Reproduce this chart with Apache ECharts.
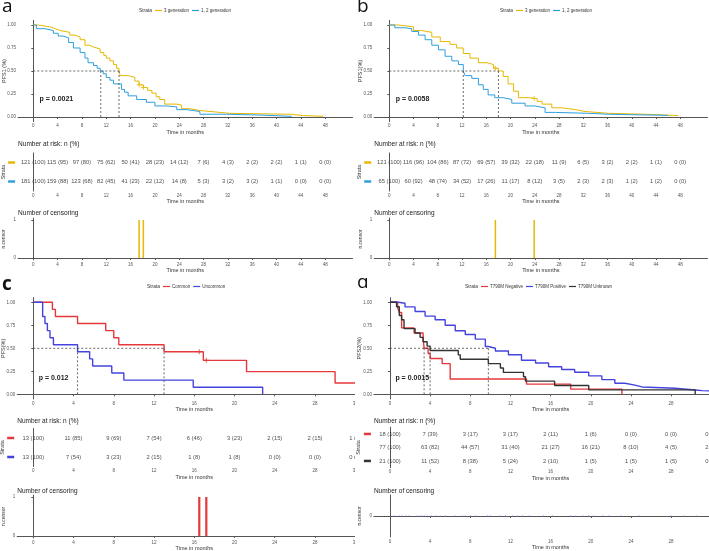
<!DOCTYPE html>
<html>
<head>
<meta charset="utf-8">
<script src="https://cdn.jsdelivr.net/npm/echarts@6/dist/echarts.min.js"></script>
<style>
  body { margin: 0; background: #fff; width: 709px; height: 551px; position: relative; overflow: hidden; }
  .panel { position: absolute; overflow: hidden; }
</style>
</head>
<body>
<div id="pa" class="panel" style="left:0;top:0;width:355px;height:278px"></div>
<div id="pb" class="panel" style="left:355px;top:0;width:354px;height:278px"></div>
<div id="pc" class="panel" style="left:0;top:278px;width:355px;height:273px"></div>
<div id="pd" class="panel" style="left:355px;top:278px;width:354px;height:273px"></div>
<script>
// ---- data ----
const ticksAB = [0, 4, 8, 12, 16, 20, 24, 28, 32, 36, 40, 44, 48]
const ticksCD = [0, 4, 8, 12, 16, 20, 24, 28, 32]
const survTicks = [0, 0.25, 0.5, 0.75, 1]

// panel a: PFS1, 3 generation vs 1,2 generation
const aGen3T = [0, 0.8, 2.7, 3.6, 4.4, 6.0, 6.9, 7.7, 8.5, 9.3, 9.9, 11.0, 11.6, 12.0, 12.6, 13.2, 13.7, 14.1, 14.3, 15.6, 16.7, 17.4, 18.1, 18.8, 19.5, 20.2, 20.8, 21.6, 23.6, 24.4, 25.8, 27.4, 30.7, 32.3, 42.2, 44.5, 47.7]
const aGen3S = [1, 0.98, 0.96, 0.94, 0.92, 0.89, 0.87, 0.84, 0.78, 0.76, 0.74, 0.70, 0.67, 0.64, 0.61, 0.57, 0.53, 0.50, 0.45, 0.43, 0.39, 0.35, 0.32, 0.29, 0.26, 0.22, 0.19, 0.14, 0.13, 0.09, 0.07, 0.05, 0.04, 0.03, 0.015, 0.008, 0.008]
const aGen12T = [0, 0.5, 1.9, 3.3, 4.1, 4.9, 5.8, 6.6, 7.7, 8.5, 9.0, 9.9, 10.5, 11.0, 11.5, 12.0, 12.6, 13.2, 14.5, 15.0, 15.6, 17.0, 18.6, 20.0, 21.9, 23.6, 25.2, 27.4, 31.8, 37.8, 42.5]
const aGen12S = [1, 0.96, 0.94, 0.91, 0.88, 0.86, 0.81, 0.75, 0.70, 0.64, 0.59, 0.56, 0.53, 0.50, 0.47, 0.43, 0.40, 0.36, 0.30, 0.27, 0.23, 0.19, 0.16, 0.12, 0.11, 0.08, 0.06, 0.03, 0.02, 0.007, 0]
const aMedians = [14.1, 11.1]
const aCensorT = [17.4, 18.1]
const aCensorS = [0.35, 0.32]
const aRiskGen3 = [121, 115, 97, 75, 50, 28, 14, 7, 4, 2, 2, 1, 0]
const aRiskGen3Pct = [100, 95, 80, 62, 41, 23, 12, 6, 3, 2, 2, 1, 0]
const aRiskGen12 = [181, 159, 123, 82, 41, 22, 14, 5, 3, 3, 1, 0, 0]
const aRiskGen12Pct = [100, 88, 68, 45, 23, 12, 8, 3, 2, 2, 1, 0, 0]

// panel b
const bGen3T = [0, 1.5, 4.0, 5.3, 7.0, 8.4, 10.0, 11.1, 12.2, 13.3, 14.7, 16.1, 17.2, 18.0, 18.8, 19.6, 20.5, 21.3, 23.0, 24.4, 25.2, 26.8, 28.5, 30.7, 32.3, 36.2, 42.2, 47.7]
const bGen3S = [1, 0.98, 0.94, 0.92, 0.87, 0.82, 0.79, 0.75, 0.69, 0.64, 0.59, 0.57, 0.53, 0.50, 0.44, 0.36, 0.28, 0.21, 0.20, 0.17, 0.14, 0.10, 0.08, 0.06, 0.04, 0.03, 0.015, 0.008]
const bGen12T = [0, 0.9, 2.6, 3.7, 4.8, 5.9, 7.0, 8.1, 9.2, 10.3, 11.4, 12.2, 12.5, 13.6, 14.7, 15.5, 16.3, 17.4, 18.8, 20.2, 22.4, 24.0, 25.7, 27.4, 32.9, 36.2, 40.0, 46.0]
const bGen12S = [1, 0.97, 0.96, 0.93, 0.89, 0.84, 0.78, 0.73, 0.66, 0.61, 0.57, 0.50, 0.45, 0.42, 0.35, 0.30, 0.24, 0.21, 0.19, 0.15, 0.12, 0.10, 0.05, 0.04, 0.03, 0.025, 0.018, 0.018]
const bMedians = [18.0, 12.2]
const bCensorT = [17.5, 23.9]
const bCensorS = [0.53, 0.20]
const bRiskGen3 = [121, 116, 104, 87, 69, 39, 22, 11, 6, 3, 2, 1, 0]
const bRiskGen3Pct = [100, 96, 86, 72, 57, 32, 18, 9, 5, 2, 2, 1, 0]
const bRiskGen12 = [65, 60, 48, 34, 17, 11, 8, 3, 2, 2, 1, 1, 0]
const bRiskGen12Pct = [100, 92, 74, 52, 26, 17, 12, 5, 3, 3, 2, 2, 0]

// panel c: PFS
const cCommonT = [0, 1.9, 2.2, 4.4, 7.2, 8.0, 8.5, 13.0, 16.9, 21.2, 30.0, 34]
const cCommonS = [1, 0.923, 0.846, 0.769, 0.692, 0.615, 0.538, 0.462, 0.369, 0.246, 0.123, 0.123]
const cUncommonT = [0, 0.93, 1.16, 1.4, 1.66, 2.0, 4.4, 5.6, 5.9, 7.8, 9.0, 15.9, 22.8]
const cUncommonS = [1, 0.846, 0.769, 0.692, 0.615, 0.538, 0.462, 0.385, 0.308, 0.231, 0.154, 0.077, 0]
const cMedians = [13.0, 4.4]
const cCensorT = [16.5, 17.2]
const cCensorS = [0.462, 0.369]
const cRiskCommon = [13, 11, 9, 7, 6, 3, 2, 2, 1]
const cRiskCommonPct = [100, 85, 69, 54, 46, 23, 15, 15, 8]
const cRiskUncommon = [13, 7, 3, 2, 1, 1, 0, 0, 0]
const cRiskUncommonPct = [100, 54, 23, 15, 8, 8, 0, 0, 0]

// panel d: PFS2 by T790M
const dNegT = [0, 0.76, 0.93, 1.16, 2.4, 3.3, 3.4, 3.8, 4.0, 5.2, 6.0, 13.6, 18.0, 23.1]
const dNegS = [1, 0.944, 0.889, 0.722, 0.667, 0.611, 0.5, 0.444, 0.389, 0.333, 0.167, 0.111, 0.056, 0]
const dPosT = [0, 0.83, 1.5, 2.5, 3.5, 4.5, 5.5, 6.5, 7.5, 8.5, 9.5, 9.8, 10.5, 11.8, 13.1, 14.5, 15.8, 17.1, 18.4, 19.8, 21.1, 22.4, 23.4, 24.4, 25.1, 28.4, 30.4, 31.1, 34]
const dPosS = [1, 0.99, 0.95, 0.90, 0.85, 0.81, 0.75, 0.69, 0.65, 0.60, 0.52, 0.50, 0.47, 0.43, 0.37, 0.34, 0.30, 0.27, 0.24, 0.20, 0.16, 0.12, 0.10, 0.08, 0.065, 0.047, 0.04, 0.03, 0.03]
const dUnkT = [0, 0.66, 0.93, 1.16, 1.4, 2.5, 3.0, 3.3, 3.7, 4.0, 6.8, 7.0, 9.8, 11.0, 11.3, 13.3, 13.5, 16.4, 19.8, 30.4]
const dUnkS = [1, 0.952, 0.857, 0.81, 0.714, 0.667, 0.619, 0.571, 0.524, 0.476, 0.429, 0.381, 0.333, 0.286, 0.238, 0.190, 0.143, 0.095, 0.048, 0]
const dMedians = [3.4, 9.8, 4.0]
const dCensorMarks = [0.4, 0.9, 1.2, 1.6, 1.9, 2.7, 3.1, 3.4, 3.7, 4.1, 4.6, 5.0, 5.5, 6.5, 7.2, 7.5, 8.0, 8.5, 9.7, 10.0, 11.0, 11.5, 12.2, 12.7, 13.2, 13.9, 15.3, 16.2, 18.0, 18.5, 19.2, 19.8, 20.3, 21.2, 21.8, 23.0, 24.8, 28.0, 29.3, 30.5]
const dRiskNeg = [18, 7, 3, 3, 2, 1, 0, 0, 0]
const dRiskNegPct = [100, 39, 17, 17, 11, 6, 0, 0, 0]
const dRiskPos = [77, 63, 44, 31, 21, 16, 8, 4, 2]
const dRiskPosPct = [100, 82, 57, 40, 27, 21, 10, 5, 3]
const dRiskUnk = [21, 11, 8, 5, 2, 1, 1, 1, 0]
const dRiskUnkPct = [100, 52, 38, 24, 10, 5, 5, 5, 0]

// ---- styling ----
const FONT = 'Liberation Sans, Arial, sans-serif'
const AXIS = '#555'
const YELLOW = '#E7B800', BLUE = '#2E9FDF'
const RED = '#E5383B', DBLUE = '#4444DD', BLACK = '#333333'

const zip = (t, s) => t.map((v, i) => [v, s[i]])

function yName(text, gap, size) {
  return {
    name: text, nameLocation: 'middle', nameRotate: 90, nameGap: gap, nameMoveOverlap: false,
    nameTextStyle: { fontSize: size, color: '#333', fontFamily: FONT },
  }
}

function buildOption(p) {
  const grids = [p.km, p.risk, p.cens]
  const xAxis = grids.map((g, i) => ({
    gridIndex: i, type: 'value', min: p.xMin, max: p.xMax,
    axisLine: { lineStyle: { color: AXIS, width: 1 } },
    axisTick: { customValues: p.ticks, length: 2, lineStyle: { color: AXIS } },
    axisLabel: { customValues: p.ticks, fontSize: 4.5, color: '#555', margin: 2, fontFamily: FONT },
    splitLine: { show: false },
    name: 'Time in months', nameLocation: 'middle', nameGap: 7.5, nameMoveOverlap: false,
    nameTextStyle: { fontSize: 5.5, color: '#333', fontFamily: FONT },
  }))
  const rich = {}
  p.curves.forEach((c, i) => { rich['d' + i] = { width: 7, height: 2.5, backgroundColor: c.color } })
  const yAxis = [
    Object.assign({
      gridIndex: 0, type: 'value', min: -0.05, max: 1.05,
      axisLine: { show: true, lineStyle: { color: AXIS } },
      axisTick: { show: true, customValues: survTicks, length: 2, lineStyle: { color: AXIS } },
      axisLabel: { customValues: survTicks, fontSize: 4.5, color: '#555', margin: 2, formatter: v => v.toFixed(2), fontFamily: FONT },
      splitLine: { show: false },
    }, yName(p.yName, 11, 5.5)),
    Object.assign({
      gridIndex: 1, type: 'category', inverse: true,
      data: p.curves.map((c, i) => 'r' + i),
      axisLine: { show: true, lineStyle: { color: AXIS } },
      axisTick: { show: false },
      axisLabel: { margin: 3, formatter: (v, i) => '{d' + i + '|}', rich },
    }, yName('Strata', 12, 5.5)),
    Object.assign({
      gridIndex: 2, type: 'value', min: p.censMin, max: p.censMax,
      axisLine: { show: true, lineStyle: { color: AXIS } },
      axisTick: { show: true, customValues: p.censTicks, length: 2, lineStyle: { color: AXIS } },
      axisLabel: { customValues: p.censTicks, fontSize: 4.5, color: '#555', margin: 2, fontFamily: FONT },
      splitLine: { show: false },
    }, yName('n.censor', 11.5, 5)),
  ]

  const series = []
  p.curves.forEach(c => {
    series.push({
      name: c.name, type: 'line', step: 'end', showSymbol: false, xAxisIndex: 0, yAxisIndex: 0,
      data: zip(c.t, c.s), color: c.color, lineStyle: { width: p.lineWidth, color: c.color },
    })
  })
  // median guide lines
  const mMax = Math.max(...p.medians)
  const dash = { color: '#444', width: 0.8, type: [2, 2] }
  series.push({ type: 'line', xAxisIndex: 0, yAxisIndex: 0, showSymbol: false, silent: true,
    data: [[0, 0.5], [mMax, 0.5]], lineStyle: dash })
  p.medians.forEach(m => series.push({ type: 'line', xAxisIndex: 0, yAxisIndex: 0, showSymbol: false, silent: true,
    data: [[m, 0.5], [m, 0]], lineStyle: dash }))
  // censor crosses on the curve
  if (p.crossT.length) {
    series.push({ type: 'scatter', xAxisIndex: 0, yAxisIndex: 0, symbol: 'path://M4,0h2v4h4v2h-4v4h-2v-4h-4v-2h4z',
      symbolSize: 5, data: zip(p.crossT, p.crossS), itemStyle: { color: p.curves[0].color } })
  }
  // risk table text
  p.curves.forEach((c, r) => {
    series.push({
      type: 'scatter', xAxisIndex: 1, yAxisIndex: 1, symbolSize: 1, itemStyle: { color: 'rgba(0,0,0,0)' },
      data: p.ticks.map((t, i) => [t, r, c.n[i] + ' (' + c.pct[i] + ')']),
      label: { show: true, position: 'inside', formatter: q => q.value[2], fontSize: 5.8, color: '#222', fontFamily: FONT },
    })
  })
  // censoring plot
  if (p.censBars.length) {
    series.push({ type: 'bar', xAxisIndex: 2, yAxisIndex: 2, barWidth: p.barWidth,
      data: p.censBars.map(t => [t, 1]), itemStyle: { color: p.curves[0].color } })
  }
  if (p.censDots.length) {
    series.push({ type: 'scatter', xAxisIndex: 2, yAxisIndex: 2, symbol: 'rect', symbolSize: [0.8, 1.6],
      data: p.censDots.map(t => [t, 0]), itemStyle: { color: '#7777e6' } })
  }

  return {
    animation: false,
    textStyle: { fontFamily: FONT },
    title: [
      { text: p.letter, left: 2, top: p.letterTop, padding: 0,
        textStyle: { fontSize: 19, fontWeight: p.letterWeight, color: '#111', fontFamily: 'Open Sans' } },
      { text: 'Strata', left: p.strataLeft, top: p.legendTop, padding: 0,
        textStyle: { fontSize: 4.8, fontWeight: 'normal', color: '#333', fontFamily: FONT } },
      { text: p.pval, left: p.km.left + 21.5, top: p.pTop, padding: 0,
        textStyle: { fontSize: 7, fontWeight: 'bold', color: '#222', fontFamily: FONT } },
      { text: 'Number at risk: n (%)', left: p.km.left, top: p.riskTitleTop, padding: 0,
        textStyle: { fontSize: 6.5, fontWeight: 'normal', color: '#222', fontFamily: FONT } },
      { text: 'Number of censoring', left: p.km.left, top: p.censTitleTop, padding: 0,
        textStyle: { fontSize: 6.5, fontWeight: 'normal', color: '#222', fontFamily: FONT } },
    ],
    legend: {
      left: p.strataLeft + 16, top: p.legendTop, padding: 0, selectedMode: false,
      icon: 'rect', itemWidth: 7, itemHeight: 1.2, itemGap: 3,
      data: p.curves.map(c => c.name),
      textStyle: { fontSize: 4.5, color: '#333', fontFamily: FONT, padding: [0, 0, 0, -3] },
    },
    grid: grids.map(g => ({ left: g.left, top: g.top, width: g.width, height: g.height,
      containLabel: false, outerBoundsMode: 'none' })),
    xAxis, yAxis, series,
  }
}

const panels = [
  {
    el: 'pa', letter: 'a', letterTop: -3, letterWeight: 'normal', yName: 'PFS1 (%)', pval: 'p = 0.0021',
    xMin: -2.5, xMax: 52.5, ticks: ticksAB, lineWidth: 1,
    km: { left: 18.1, top: 20.4, width: 334.4, height: 101.2 },
    risk: { left: 18.1, top: 153, width: 334.4, height: 38 },
    cens: { left: 18.1, top: 218.1, width: 334.4, height: 41.8 },
    censMin: -0.05, censMax: 1.05, censTicks: [0, 1],
    strataLeft: 139, legendTop: 8, pTop: 96, riskTitleTop: 140.5, censTitleTop: 209.5,
    medians: aMedians, crossT: aCensorT, crossS: aCensorS, censBars: aCensorT, censDots: [], barWidth: 1.5,
    curves: [
      { name: '3 generation', color: YELLOW, t: aGen3T, s: aGen3S, n: aRiskGen3, pct: aRiskGen3Pct },
      { name: '1, 2 generation', color: BLUE, t: aGen12T, s: aGen12S, n: aRiskGen12, pct: aRiskGen12Pct },
    ],
  },
  {
    el: 'pb', letter: 'b', letterTop: -3, letterWeight: 'normal', yName: 'PFS1(%)', pval: 'p = 0.0058',
    xMin: -2.5, xMax: 52.5, ticks: ticksAB, lineWidth: 1,
    km: { left: 19.2, top: 20.4, width: 333.3, height: 101.2 },
    risk: { left: 19.2, top: 153, width: 333.3, height: 38 },
    cens: { left: 19.2, top: 218.1, width: 333.3, height: 41.8 },
    censMin: -0.05, censMax: 1.05, censTicks: [0, 1],
    strataLeft: 145, legendTop: 8, pTop: 96, riskTitleTop: 140.5, censTitleTop: 209.5,
    medians: bMedians, crossT: bCensorT, crossS: bCensorS, censBars: bCensorT, censDots: [], barWidth: 1.5,
    curves: [
      { name: '3 generation', color: YELLOW, t: bGen3T, s: bGen3S, n: bRiskGen3, pct: bRiskGen3Pct },
      { name: '1, 2 generation', color: BLUE, t: bGen12T, s: bGen12S, n: bRiskGen12, pct: bRiskGen12Pct },
    ],
  },
  {
    el: 'pc', letter: 'c', letterTop: -3, letterWeight: 'bold', yName: 'PFS(%)', pval: 'p = 0.012',
    xMin: -1.6, xMax: 33.6, ticks: ticksCD, lineWidth: 1.4,
    km: { left: 17.2, top: 19.7, width: 354.1, height: 101.2 },
    risk: { left: 17.2, top: 150.5, width: 354.1, height: 38 },
    cens: { left: 17.2, top: 217, width: 354.1, height: 42.9 },
    censMin: -0.05, censMax: 1.05, censTicks: [0, 1],
    strataLeft: 147, legendTop: 6, pTop: 96.5, riskTitleTop: 139.5, censTitleTop: 209.5,
    medians: cMedians, crossT: cCensorT, crossS: cCensorS, censBars: cCensorT, censDots: [], barWidth: 2.2,
    curves: [
      { name: 'Common', color: RED, t: cCommonT, s: cCommonS, n: cRiskCommon, pct: cRiskCommonPct },
      { name: 'Uncommon', color: DBLUE, t: cUncommonT, s: cUncommonS, n: cRiskUncommon, pct: cRiskUncommonPct },
    ],
  },
  {
    el: 'pd', letter: 'd', letterTop: -5, letterWeight: 'normal', yName: 'PFS2(%)', pval: 'p = 0.0015',
    xMin: -1.6, xMax: 33.6, ticks: ticksCD, lineWidth: 1.4,
    km: { left: 18.9, top: 19.7, width: 353.4, height: 101.2 },
    risk: { left: 18.9, top: 149.2, width: 353.4, height: 40.5 },
    cens: { left: 18.9, top: 217, width: 353.4, height: 42 },
    censMin: -1, censMax: 1, censTicks: [0],
    strataLeft: 110, legendTop: 6, pTop: 96.5, riskTitleTop: 139.5, censTitleTop: 209.5,
    medians: dMedians, crossT: [], crossS: [], censBars: [], censDots: dCensorMarks, barWidth: 2,
    curves: [
      { name: 'T790M Negative', color: RED, t: dNegT, s: dNegS, n: dRiskNeg, pct: dRiskNegPct },
      { name: 'T790M Positive', color: DBLUE, t: dPosT, s: dPosS, n: dRiskPos, pct: dRiskPosPct },
      { name: 'T790M Unknown', color: BLACK, t: dUnkT, s: dUnkS, n: dRiskUnk, pct: dRiskUnkPct },
    ],
  },
]

panels.forEach(p => {
  const chart = echarts.init(document.getElementById(p.el), null, { renderer: 'canvas' })
  chart.setOption(buildOption(p))
})
</script>
</body>
</html>
